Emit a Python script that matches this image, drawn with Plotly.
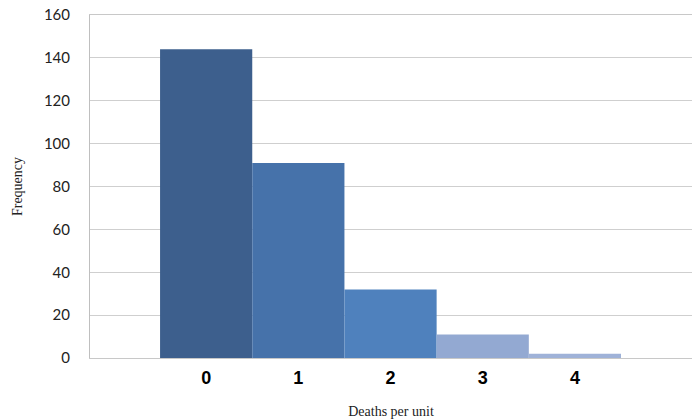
import plotly.graph_objects as go

deaths = [0, 1, 2, 3, 4]
frequency = [144, 91, 32, 11, 2]
bar_colors = ["#3D5F8D", "#4672AA", "#4F81BD", "#93A9D2", "#9FB2D8"]
y_ticks = [0, 20, 40, 60, 80, 100, 120, 140, 160]

fig = go.Figure(go.Bar(
    x=deaths, y=frequency, width=1.0,
    marker=dict(color=bar_colors, line=dict(width=0)),
))

fig.update_layout(
    width=694, height=419,
    margin=dict(l=90, r=2, t=15, b=59),
    plot_bgcolor="white", paper_bgcolor="white",
    showlegend=False,
    xaxis=dict(
        range=[-1.26, 5.27], tickvals=deaths, ticktext=[str(d) for d in deaths],
        showgrid=False, zeroline=False, showline=True, mirror=True,
        linecolor="#C8C8C8", linewidth=1,
        tickfont=dict(family="Liberation Sans", size=18, color="#000000", weight="bold"),
        ticks="", ticklabelstandoff=3,
        title=dict(text="Deaths per unit", standoff=20,
                   font=dict(family="Liberation Serif", size=14, color="#222222")),
    ),
    yaxis=dict(
        range=[0, 160], tickvals=y_ticks, ticklabeloverflow="allow",
        showgrid=True, gridcolor="#CFCFCF", gridwidth=1,
        zeroline=False, showline=True, linecolor="#BFBFBF", linewidth=1,
        tickfont=dict(family="Lato", size=15, color="#222222"),
        ticks="", ticklabelstandoff=16,
        title=dict(text="Frequency", standoff=17,
                   font=dict(family="Liberation Serif", size=14, color="#222222")),
    ),
)

# remove the page body's default margin so the figure fills the window exactly
fig.write_html("out.html", config={"displayModeBar": False},
               post_script="document.body.style.margin='0';")
